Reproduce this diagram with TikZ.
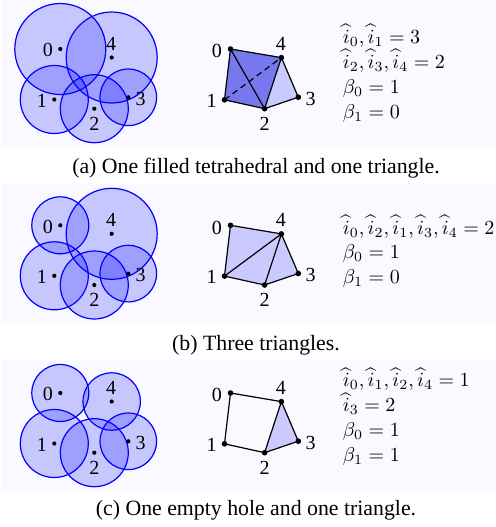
\documentclass[tikz,border=0pt]{standalone}
\usepackage[no-math]{fontspec}
\setmainfont{Liberation Serif}
\usetikzlibrary{calc}
\definecolor{panelbg}{RGB}{249,249,255}
\definecolor{tetra}{RGB}{120,120,238}
\definecolor{tri}{RGB}{202,202,255}
\begin{document}
\begin{tikzpicture}[x=0.5pt,y=-0.5pt,
  ball/.style={draw=blue, fill=blue, fill opacity=0.2, line width=0.6pt},
  sdot/.style={fill=black},
  lbl/.style={inner sep=0pt, font=\fontsize{10}{12}\selectfont},
  capt/.style={anchor=base, inner sep=0pt, font=\fontsize{10.9}{13}\selectfont},
  eqn/.style={anchor=base west, inner sep=0pt, font=\fontsize{10.2}{12}\selectfont},
  edge/.style={line width=0.6pt, black, line join=round}]
\useasboundingbox (0,0) rectangle (496,527);
% backgrounds
\fill[panelbg] (1,0) rectangle (496,148);
\fill[panelbg] (1,183) rectangle (496,325);
\fill[panelbg] (1,359) rectangle (496,493);

% ================= coordinates =================
\foreach \p/\dy in {a/0, b/176.3, c/344} {
  \coordinate (\p0) at (60.3,49+\dy);
  \coordinate (\p1) at (54.3,99.5+\dy);
  \coordinate (\p2) at (94.3,108.7+\dy);
  \coordinate (\p3) at (128.3,97.3+\dy);
  \coordinate (\p4) at (111.7,57.5+\dy);
  \coordinate (\p k0) at (230.5,49+\dy);
  \coordinate (\p k1) at (224.5,99.8+\dy);
  \coordinate (\p k2) at (264.6,108.7+\dy);
  \coordinate (\p k3) at (298.3,97.2+\dy);
  \coordinate (\p k4) at (281.4,57.6+\dy);
}

% ================= panel (a) =================
\draw[ball] (a0) circle[radius=22.75pt];
\draw[ball] (a4) circle[radius=22.75pt];
\draw[ball] (a1) circle[radius=17pt];
\draw[ball] (a2) circle[radius=17pt];
\draw[ball] (a3) circle[radius=14.15pt];
\fill[tetra] (ak0) -- (ak1) -- (ak2) -- (ak4) -- cycle;
\fill[tri] (ak2) -- (ak3) -- (ak4) -- cycle;
\draw[edge] (ak0) -- (ak4) -- (ak3) -- (ak2) -- (ak1) -- cycle;
\draw[edge] (ak0) -- (ak2) -- (ak4);
\draw[edge, dash pattern=on 3pt off 2pt] (ak1) -- (ak4);
\node[eqn] (ea1) at (342.5,43.5) {$\widehat{i}_0,\widehat{i}_1=3$};
\node[eqn] (ea2) at (342.5,68.3) {$\widehat{i}_2,\widehat{i}_3,\widehat{i}_4=2$};
\node[eqn] (ea3) at (342.5,93) {$\beta_0=1$};
\node[eqn] (ea4) at (342.5,118) {$\beta_1=0$};
\node[capt] (capa) at (256,173) {(a) One filled tetrahedral and one triangle.};

% ================= panel (b) =================
\draw[ball] (b0) circle[radius=14.25pt];
\draw[ball] (b4) circle[radius=22.75pt];
\draw[ball] (b1) circle[radius=17pt];
\draw[ball] (b2) circle[radius=17pt];
\draw[ball] (b3) circle[radius=14.15pt];
\fill[tri] (bk0) -- (bk1) -- (bk2) -- (bk3) -- (bk4) -- cycle;
\draw[edge] (bk0) -- (bk4) -- (bk3) -- (bk2) -- (bk1) -- cycle;
\draw[edge] (bk1) -- (bk4) -- (bk2);
\node[eqn] (eb1) at (342.5,234.3) {$\widehat{i}_0,\widehat{i}_2,\widehat{i}_1,\widehat{i}_3,\widehat{i}_4=2$};
\node[eqn] (eb2) at (342.5,258.5) {$\beta_0=1$};
\node[eqn] (eb3) at (342.5,283.3) {$\beta_1=0$};
\node[capt] (capb) at (256,350) {(b) Three triangles.};

% ================= panel (c) =================
\draw[ball] (c0) circle[radius=14.25pt];
\draw[ball] (c4) circle[radius=14.35pt];
\draw[ball] (c1) circle[radius=17pt];
\draw[ball] (c2) circle[radius=17pt];
\draw[ball] (c3) circle[radius=14.15pt];
\fill[tri] (ck2) -- (ck3) -- (ck4) -- cycle;
\draw[edge] (ck0) -- (ck4) -- (ck3) -- (ck2) -- (ck1) -- cycle;
\draw[edge] (ck2) -- (ck4);
\node[eqn] (ec1) at (342.5,386.7) {$\widehat{i}_0,\widehat{i}_1,\widehat{i}_2,\widehat{i}_4=1$};
\node[eqn] (ec2) at (342.5,411.7) {$\widehat{i}_3=2$};
\node[eqn] (ec3) at (342.5,436.7) {$\beta_0=1$};
\node[eqn] (ec4) at (342.5,461.3) {$\beta_1=1$};
\node[capt] (capc) at (256,515) {(c) One empty hole and one triangle.};

% ================= dots and labels =================
\foreach \p in {a,b,c} {
  \foreach \i in {0,...,4} {
    \fill[sdot] (\p\i) circle[radius=1.05pt];
    \fill[sdot] (\p k\i) circle[radius=1.4pt];
  }
  \node[lbl] (\p l0) at ($(\p0)+(-12.3,1.3)$) {0};
  \node[lbl] (\p l1) at ($(\p1)+(-12.3,1)$) {1};
  \node[lbl] (\p l2) at ($(\p2)+(0,15.3)$) {2};
  \node[lbl] (\p l3) at ($(\p3)+(12.4,1.6)$) {3};
  \node[lbl] (\p l4) at ($(\p4)+(-0.6,-14)$) {4};
  \node[lbl] (\p m0) at ($(\p k0)+(-13.6,2.4)$) {0};
  \node[lbl] (\p m1) at ($(\p k1)+(-13,1)$) {1};
  \node[lbl] (\p m2) at ($(\p k2)+(0,15.3)$) {2};
  \node[lbl] (\p m3) at ($(\p k3)+(12.4,1.3)$) {3};
  \node[lbl] (\p m4) at ($(\p k4)+(-0.6,-13.7)$) {4};
}
\end{tikzpicture}
\end{document}
